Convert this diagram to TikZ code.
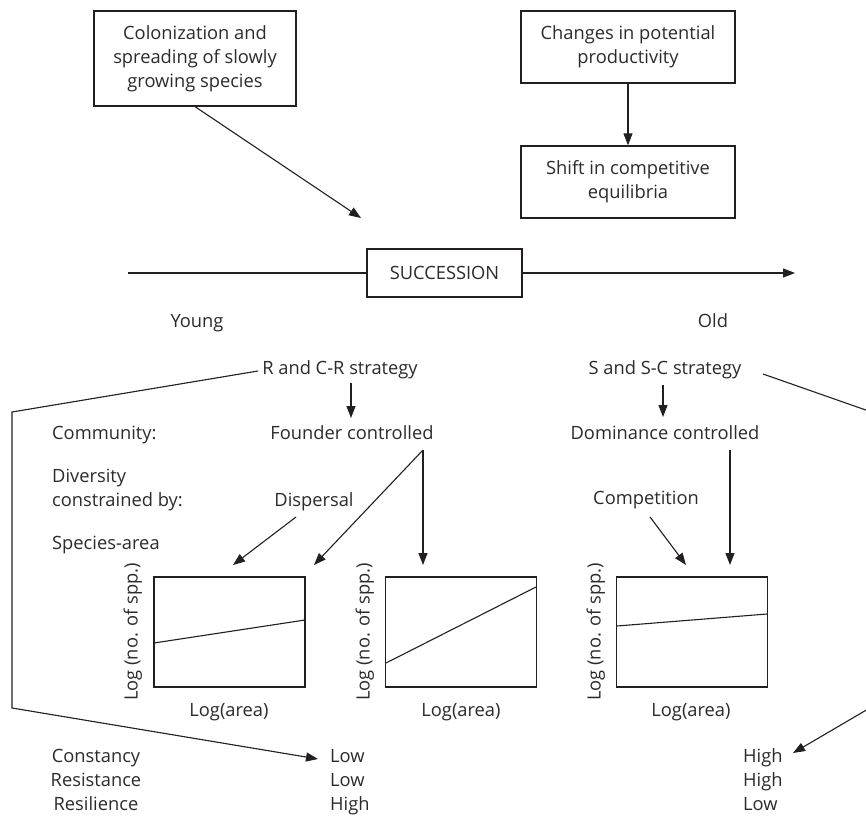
\documentclass[tikz,border=0pt]{standalone}
\usepackage{fontspec}
\setmainfont{Open Sans}
\usetikzlibrary{arrows.meta}
\definecolor{ink}{HTML}{231F20}
\definecolor{txt}{HTML}{2B2B2B}
\begin{document}
\begin{tikzpicture}[x=1pt,y=-1pt,
  font=\fontsize{18.3}{24}\selectfont,
  box/.style={draw=ink, line width=1.3pt, align=center, text=txt, inner sep=0pt},
  lbl/.style={text=txt, inner sep=0pt, text height=12.5pt, text depth=3.5pt},
  ln/.style={draw=ink, line width=1.1pt},
  arr/.style={draw=ink, line width=1.1pt, -{Triangle[length=12pt,width=9pt]}},
  graph/.style={draw=ink, line width=1.3pt, inner sep=0pt, minimum width=151pt, minimum height=110pt}]
\useasboundingbox (0,0) rectangle (866,818);
\fill[white] (0,0) rectangle (866,818);

% top boxes
\node[box, minimum width=202pt, minimum height=95pt] (colon) at (195,58.5) {Colonization and\\spreading of slowly\\growing species};
\node[box, minimum width=214pt, minimum height=72pt] (chg) at (628,47) {Changes in potential\\productivity};
\node[box, minimum width=214pt, minimum height=72pt] (shift) at (628,182) {Shift in competitive\\equilibria};
\coordinate (colEnd) at (361,218);
\draw[arr] (colon.south) -- (colEnd);
\draw[arr] (chg) -- (shift);

% succession axis
\node[box, minimum width=155pt, minimum height=48pt] (succ) at (444.5,273) {SUCCESSION};
\coordinate (axStart) at (128,273);
\coordinate (axEnd) at (795,273);
\draw[ln] (axStart) -- (succ);
\draw[arr] (succ) -- (axEnd);

\node[lbl] (young) at (197,323) {Young};
\node[lbl] (old) at (713,323) {Old};

% left labels
\node[lbl, anchor=west] (comm) at (52,435) {Community:};
\node[lbl, anchor=west] (div1) at (52,478) {Diversity};
\node[lbl, anchor=west] (div2) at (52,502) {constrained by:};
\node[lbl, anchor=west] (sparea) at (52,545) {Species-area};

% strategies
\node[lbl] (rstrat) at (340,370) {R and C-R strategy};
\node[lbl] (founder) at (352,435) {Founder controlled};
\node[lbl] (disp) at (314,502) {Dispersal};
\node[lbl] (sstrat) at (665,370) {S and S-C strategy};
\node[lbl] (domin) at (665,435) {Dominance controlled};
\node[lbl] (comp) at (646,500) {Competition};

\coordinate (rA) at (351,383);
\coordinate (rB) at (351,418);
\draw[arr] (rA) -- (rB);
\coordinate (sA) at (663,385);
\coordinate (sB) at (663,417);
\draw[arr] (sA) -- (sB);

% graphs
\node[graph] (g1) at (229.5,632) {};
\node[graph] (g2) at (461,632) {};
\node[graph] (g3) at (692,632) {};
\draw[ln] (154,643) -- (305,620);
\draw[ln] (386,663) -- (536,587);
\draw[ln] (617,626) -- (767,614);

\node[lbl, rotate=90] (y1) at (133,632) {Log (no. of spp.)};
\node[lbl, rotate=90] (y2) at (365,632) {Log (no. of spp.)};
\node[lbl, rotate=90] (y3) at (596,632) {Log (no. of spp.)};
\node[lbl] (x1) at (229,712) {Log(area)};
\node[lbl] (x2) at (461,712) {Log(area)};
\node[lbl] (x3) at (691,712) {Log(area)};

% arrows into graphs
\coordinate (fc) at (423,450);
\coordinate (t1) at (233,565);
\coordinate (t2) at (314,565);
\coordinate (t3) at (423,565);
\coordinate (ds) at (296,517);
\draw[arr] (ds) -- (t1);
\draw[arr] (fc) -- (t2);
\draw[arr] (fc) -- (t3);
\coordinate (dc) at (730,450);
\coordinate (t5) at (730,565);
\coordinate (cs) at (650,517);
\coordinate (t4) at (686,565);
\draw[arr] (cs) -- (t4);
\draw[arr] (dc) -- (t5);

% bottom labels
\node[lbl] (const) at (96,758) {Constancy};
\node[lbl] (resist) at (96,782) {Resistance};
\node[lbl] (resil) at (96,806) {Resilience};
\node[lbl, anchor=west] (lo1) at (330,758) {Low};
\node[lbl, anchor=west] (lo2) at (330,782) {Low};
\node[lbl, anchor=west] (hi1) at (330,806) {High};
\node[lbl, anchor=west] (hh1) at (743,758) {High};
\node[lbl, anchor=west] (hh2) at (743,782) {High};
\node[lbl, anchor=west] (hl1) at (743,806) {Low};

% loop connectors
\coordinate (lStart) at (258,371);
\coordinate (lTip) at (318,759);
\draw[arr] (lStart) -- (12,412) -- (12,708) -- (lTip);
\coordinate (rStart) at (763,374);
\coordinate (rTip) at (793,753);
\begin{scope}
\clip (0,0) rectangle (866,818);
\draw[arr] (rStart) -- (880,415) -- (880,702) -- (rTip);
\end{scope}
\end{tikzpicture}
\end{document}
